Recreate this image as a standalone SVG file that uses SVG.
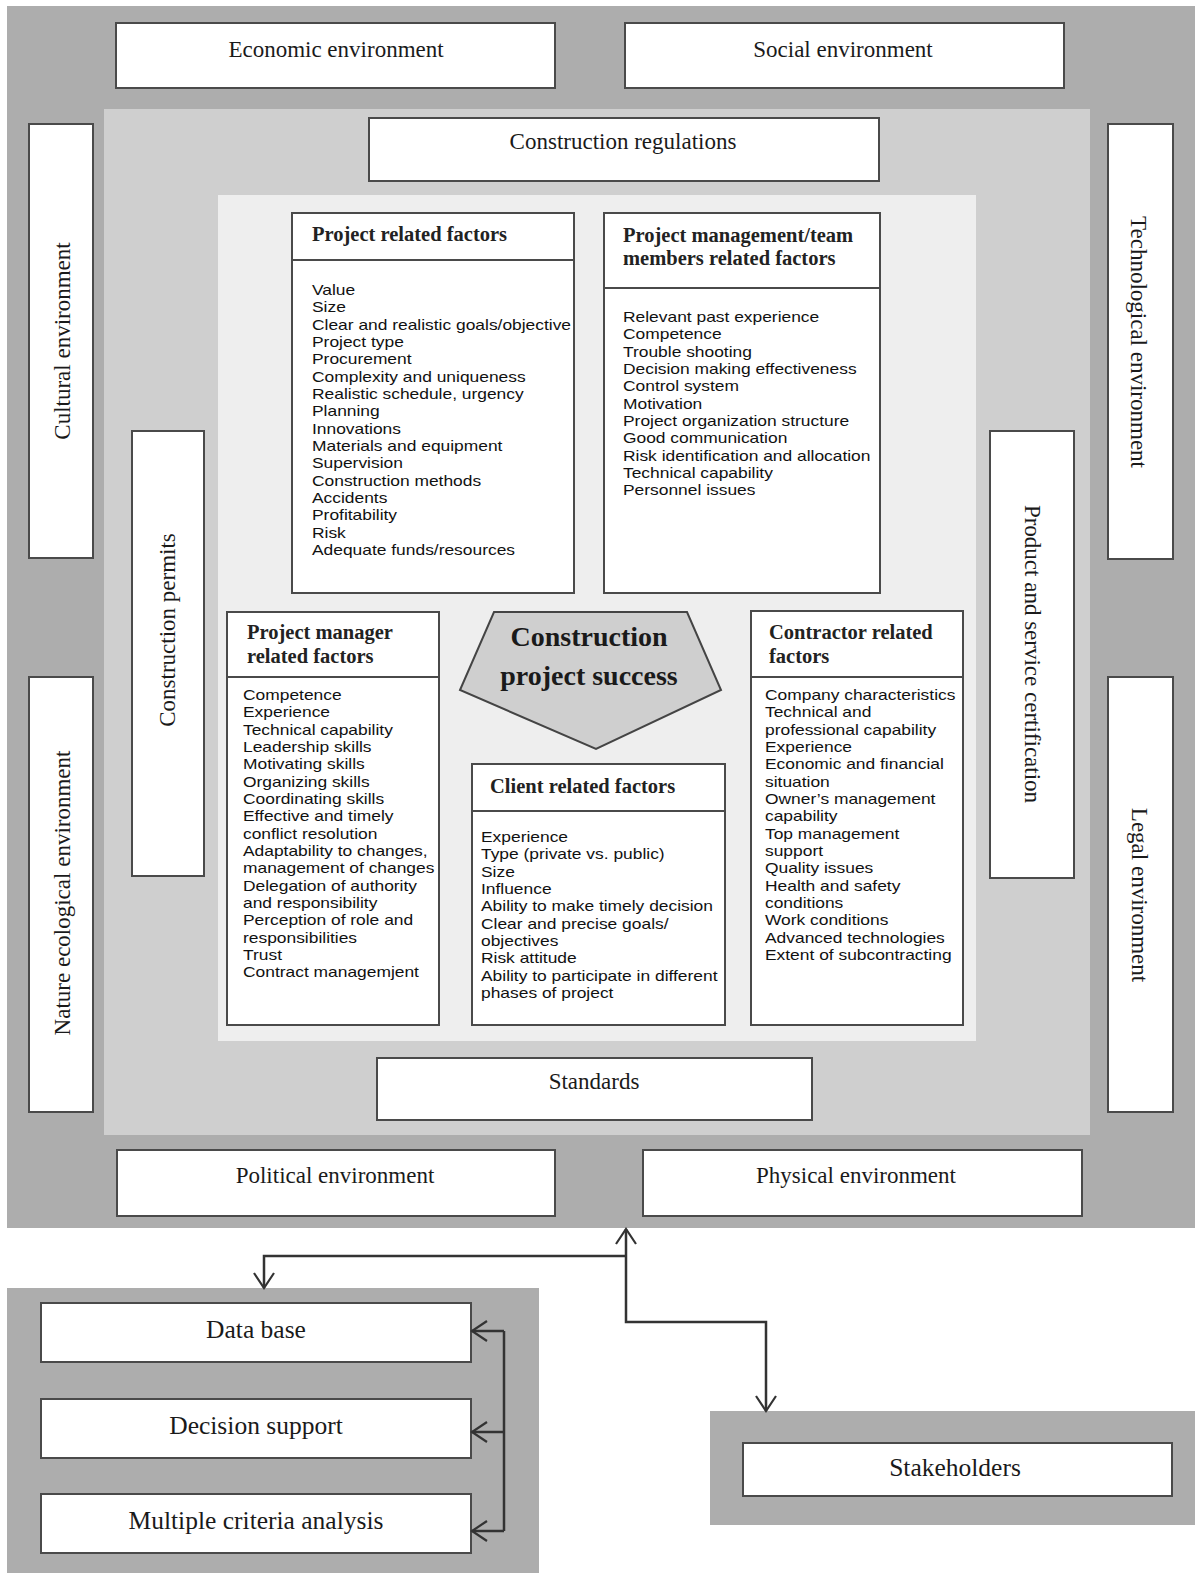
<svg xmlns="http://www.w3.org/2000/svg" width="1195" height="1573" viewBox="0 0 1195 1573">
<style>
.dark{fill:#adadad}
.mid{fill:#cfcfcf}
.light{fill:#eeeeee}
.box{fill:#ffffff;stroke:#4a4a4a;stroke-width:2}
.lbl{font-family:"Liberation Serif","Times New Roman",serif;font-size:23px;fill:#1a1a1a;text-anchor:middle;dominant-baseline:central}
.big{font-size:25.5px}
.hdr{font-family:"Liberation Serif","Times New Roman",serif;font-size:20.5px;font-weight:bold;fill:#222}
.ttl{font-family:"Liberation Serif","Times New Roman",serif;font-size:28px;font-weight:bold;fill:#1a1a1a;text-anchor:middle}
.lst{font-family:"Liberation Sans",Arial,sans-serif;font-size:15px;fill:#111}
.con{fill:none;stroke:#333;stroke-width:2.5}
</style>
<defs>
<marker id="arr" viewBox="-1 -11 18 22" refX="15" refY="0" markerWidth="18" markerHeight="22" markerUnits="userSpaceOnUse" orient="auto">
<path d="M0,-10 L15,0 L0,10" fill="none" stroke="#333" stroke-width="2.2"/>
</marker>
</defs>

<!-- background panels -->
<rect class="dark" x="7" y="6" width="1188" height="1222"/>
<rect class="mid" x="104" y="109" width="986" height="1026"/>
<rect class="light" x="218" y="195" width="758" height="846"/>
<rect class="dark" x="7" y="1288" width="532" height="285"/>
<rect class="dark" x="710" y="1411" width="485" height="114"/>

<g id="economic"><rect class="box" x="116" y="23" width="439" height="65"/><text class="lbl" x="336" y="49">Economic environment</text></g>
<g id="social"><rect class="box" x="625" y="23" width="439" height="65"/><text class="lbl" x="843" y="49">Social environment</text></g>
<g id="regulations"><rect class="box" x="369" y="118" width="510" height="63"/><text class="lbl" x="623" y="141">Construction regulations</text></g>
<g id="cultural"><rect class="box" x="29" y="124" width="64" height="434"/><text class="lbl" transform="translate(62,341) rotate(-90)">Cultural environment</text></g>
<g id="technological"><rect class="box" x="1108" y="124" width="65" height="435"/><text class="lbl" transform="translate(1138,342) rotate(90)">Technological environment</text></g>
<g id="nature"><rect class="box" x="29" y="677" width="64" height="435"/><text class="lbl" transform="translate(62,893) rotate(-90)">Nature ecological environment</text></g>
<g id="legal"><rect class="box" x="1108" y="677" width="65" height="435"/><text class="lbl" transform="translate(1139,895) rotate(90)">Legal environment</text></g>
<g id="permits"><rect class="box" x="132" y="431" width="72" height="445"/><text class="lbl" transform="translate(167,630) rotate(-90)">Construction permits</text></g>
<g id="certification"><rect class="box" x="990" y="431" width="84" height="447"/><text class="lbl" transform="translate(1032,654) rotate(90)">Product and service certification</text></g>
<g id="standards"><rect class="box" x="377" y="1058" width="435" height="62"/><text class="lbl" x="594" y="1081">Standards</text></g>
<g id="political"><rect class="box" x="117" y="1150" width="438" height="66"/><text class="lbl" x="335" y="1175">Political environment</text></g>
<g id="physical"><rect class="box" x="643" y="1150" width="439" height="66"/><text class="lbl" x="856" y="1175">Physical environment</text></g>

<g id="project-factors">
<rect class="box" x="292" y="213" width="282" height="380"/>
<line x1="292" y1="260" x2="574" y2="260" stroke="#4a4a4a" stroke-width="2"/>
<text class="hdr" x="312" y="241">Project related factors</text>
<g transform="translate(312,0) scale(1.16,1)"><text class="lst" y="295">
<tspan x="0">Value</tspan><tspan x="0" dy="17.33">Size</tspan><tspan x="0" dy="17.33">Clear and realistic goals/objective</tspan><tspan x="0" dy="17.33">Project type</tspan><tspan x="0" dy="17.33">Procurement</tspan><tspan x="0" dy="17.33">Complexity and uniqueness</tspan><tspan x="0" dy="17.33">Realistic schedule, urgency</tspan><tspan x="0" dy="17.33">Planning</tspan><tspan x="0" dy="17.33">Innovations</tspan><tspan x="0" dy="17.33">Materials and equipment</tspan><tspan x="0" dy="17.33">Supervision</tspan><tspan x="0" dy="17.33">Construction methods</tspan><tspan x="0" dy="17.33">Accidents</tspan><tspan x="0" dy="17.33">Profitability</tspan><tspan x="0" dy="17.33">Risk</tspan><tspan x="0" dy="17.33">Adequate funds/resources</tspan>
</text></g>
</g>

<g id="team-factors">
<rect class="box" x="604" y="213" width="276" height="380"/>
<line x1="604" y1="288" x2="880" y2="288" stroke="#4a4a4a" stroke-width="2"/>
<text class="hdr" x="623" y="242">Project management/team</text>
<text class="hdr" x="623" y="265">members related factors</text>
<g transform="translate(623,0) scale(1.16,1)"><text class="lst" y="322">
<tspan x="0">Relevant past experience</tspan><tspan x="0" dy="17.33">Competence</tspan><tspan x="0" dy="17.33">Trouble shooting</tspan><tspan x="0" dy="17.33">Decision making effectiveness</tspan><tspan x="0" dy="17.33">Control system</tspan><tspan x="0" dy="17.33">Motivation</tspan><tspan x="0" dy="17.33">Project organization structure</tspan><tspan x="0" dy="17.33">Good communication</tspan><tspan x="0" dy="17.33">Risk identification and allocation</tspan><tspan x="0" dy="17.33">Technical capability</tspan><tspan x="0" dy="17.33">Personnel issues</tspan>
</text></g>
</g>

<g id="manager-factors">
<rect class="box" x="227" y="612" width="212" height="413"/>
<line x1="227" y1="677" x2="439" y2="677" stroke="#4a4a4a" stroke-width="2"/>
<text class="hdr" x="247" y="639">Project manager</text>
<text class="hdr" x="247" y="663">related factors</text>
<g transform="translate(243,0) scale(1.16,1)"><text class="lst" y="700">
<tspan x="0">Competence</tspan><tspan x="0" dy="17.33">Experience</tspan><tspan x="0" dy="17.33">Technical capability</tspan><tspan x="0" dy="17.33">Leadership skills</tspan><tspan x="0" dy="17.33">Motivating skills</tspan><tspan x="0" dy="17.33">Organizing skills</tspan><tspan x="0" dy="17.33">Coordinating skills</tspan><tspan x="0" dy="17.33">Effective and timely</tspan><tspan x="0" dy="17.33">conflict resolution</tspan><tspan x="0" dy="17.33">Adaptability to changes,</tspan><tspan x="0" dy="17.33">management of changes</tspan><tspan x="0" dy="17.33">Delegation of authority</tspan><tspan x="0" dy="17.33">and responsibility</tspan><tspan x="0" dy="17.33">Perception of role and</tspan><tspan x="0" dy="17.33">responsibilities</tspan><tspan x="0" dy="17.33">Trust</tspan><tspan x="0" dy="17.33">Contract managemjent</tspan>
</text></g>
</g>

<g id="success">
<polygon points="494,612 687,612 721,690 596,749 460,690" fill="#cfcfcf" stroke="#444" stroke-width="2"/>
<text class="ttl" x="589" y="646">Construction</text>
<text class="ttl" x="589" y="685">project success</text>
</g>

<g id="client-factors">
<rect class="box" x="472" y="764" width="253" height="261"/>
<line x1="472" y1="811" x2="725" y2="811" stroke="#4a4a4a" stroke-width="2"/>
<text class="hdr" x="490" y="793">Client related factors</text>
<g transform="translate(481,0) scale(1.16,1)"><text class="lst" y="842">
<tspan x="0">Experience</tspan><tspan x="0" dy="17.33">Type (private vs. public)</tspan><tspan x="0" dy="17.33">Size</tspan><tspan x="0" dy="17.33">Influence</tspan><tspan x="0" dy="17.33">Ability to make timely decision</tspan><tspan x="0" dy="17.33">Clear and precise goals/</tspan><tspan x="0" dy="17.33">objectives</tspan><tspan x="0" dy="17.33">Risk attitude</tspan><tspan x="0" dy="17.33">Ability to participate in different</tspan><tspan x="0" dy="17.33">phases of project</tspan>
</text></g>
</g>

<g id="contractor-factors">
<rect class="box" x="751" y="611" width="212" height="414"/>
<line x1="751" y1="677" x2="963" y2="677" stroke="#4a4a4a" stroke-width="2"/>
<text class="hdr" x="769" y="639">Contractor related</text>
<text class="hdr" x="769" y="663">factors</text>
<g transform="translate(765,0) scale(1.16,1)"><text class="lst" y="700">
<tspan x="0">Company characteristics</tspan><tspan x="0" dy="17.33">Technical and</tspan><tspan x="0" dy="17.33">professional capability</tspan><tspan x="0" dy="17.33">Experience</tspan><tspan x="0" dy="17.33">Economic and financial</tspan><tspan x="0" dy="17.33">situation</tspan><tspan x="0" dy="17.33">Owner’s management</tspan><tspan x="0" dy="17.33">capability</tspan><tspan x="0" dy="17.33">Top management</tspan><tspan x="0" dy="17.33">support</tspan><tspan x="0" dy="17.33">Quality issues</tspan><tspan x="0" dy="17.33">Health and safety</tspan><tspan x="0" dy="17.33">conditions</tspan><tspan x="0" dy="17.33">Work conditions</tspan><tspan x="0" dy="17.33">Advanced technologies</tspan><tspan x="0" dy="17.33">Extent of subcontracting</tspan>
</text></g>
</g>

<g id="database"><rect class="box" x="41" y="1303" width="430" height="59"/><text class="lbl big" x="256" y="1329">Data base</text></g>
<g id="decision"><rect class="box" x="41" y="1399" width="430" height="59"/><text class="lbl big" x="256" y="1425">Decision support</text></g>
<g id="mca"><rect class="box" x="41" y="1494" width="430" height="59"/><text class="lbl big" x="256" y="1520">Multiple criteria analysis</text></g>
<g id="stakeholders"><rect class="box" x="743" y="1443" width="429" height="53"/><text class="lbl big" x="955" y="1467">Stakeholders</text></g>

<g id="connectors">
<path class="con" d="M626,1256 L626,1229" marker-end="url(#arr)"/>
<path class="con" d="M626,1256 L264,1256 L264,1288" marker-end="url(#arr)"/>
<path class="con" d="M626,1256 L626,1322 L766,1322 L766,1411" marker-end="url(#arr)"/>
<path class="con" d="M504,1331 L504,1531"/>
<path class="con" d="M504,1331 L472,1331" marker-end="url(#arr)"/>
<path class="con" d="M504,1432 L472,1432" marker-end="url(#arr)"/>
<path class="con" d="M504,1531 L472,1531" marker-end="url(#arr)"/>
</g>
</svg>
